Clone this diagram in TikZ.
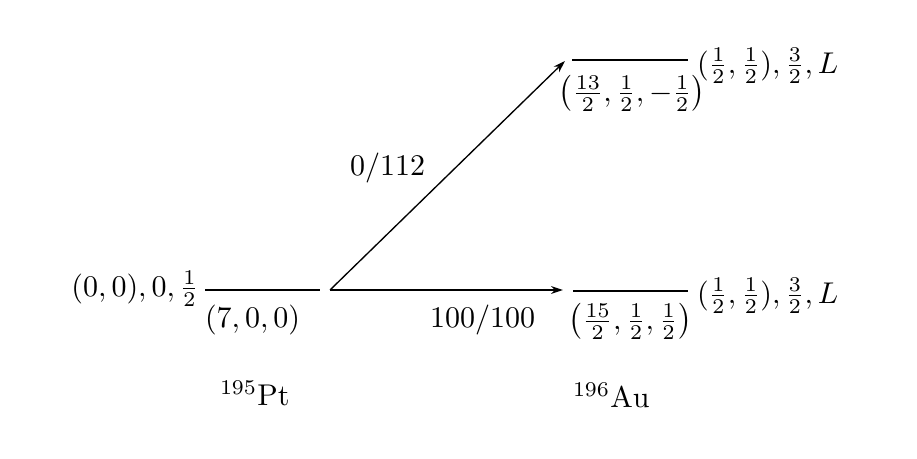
\documentclass[tikz,border=0pt]{standalone}
\usepackage{amsmath}
\usetikzlibrary{arrows.meta}
\begin{document}
\begin{tikzpicture}[x=0.3333pt,y=-0.3333pt,
  level/.style={line width=0.5pt},
  trans/.style={line width=0.45pt,-{Stealth[length=4pt,width=2.6pt]}},
  lab/.style={inner sep=0pt,outer sep=0pt}]
\useasboundingbox[fill=white] (0,0) rectangle (917,458);
% level lines
\coordinate (L1) at (205,290); \coordinate (L2) at (320,290);
\coordinate (U1) at (572,60);  \coordinate (U2) at (688,60);
\coordinate (D1) at (573,291); \coordinate (D2) at (688,291);
\draw[level] (L1) -- (L2);
\draw[level] (U1) -- (U2);
\draw[level] (D1) -- (D2);
% transitions
\coordinate (S) at (330,290);
\coordinate (UA) at (565,61);
\coordinate (DA) at (563,290);
\draw[trans] (S) -- (UA);
\draw[trans] (S) -- (DA);
% labels
\node[lab,anchor=base east] (lleft) at (199,296) {$(0,0),0,\frac12$};
\node[lab,anchor=base west] (lbelow) at (205,327) {$(7,0,0)$};
\node[lab,anchor=base west] (t1) at (350,175) {$0/112$};
\node[lab,anchor=base west] (t2) at (430,327) {$100/100$};
\node[lab,anchor=base west] (uright) at (697,73) {$(\frac12,\frac12),\frac32,L$};
\node[lab,anchor=base] (ubelow) at (632,101) {$\left(\frac{13}{2},\frac12,-\frac12\right)$};
\node[lab,anchor=base west] (dright) at (697,303) {$(\frac12,\frac12),\frac32,L$};
\node[lab,anchor=base] (dbelow) at (630,329) {$\left(\frac{15}{2},\frac12,\frac12\right)$};
\node[lab,anchor=base west] (pt) at (220,405) {${}^{195}\mathrm{Pt}$};
\node[lab,anchor=base west] (au) at (573,407) {${}^{196}\mathrm{Au}$};
\end{tikzpicture}
\end{document}
